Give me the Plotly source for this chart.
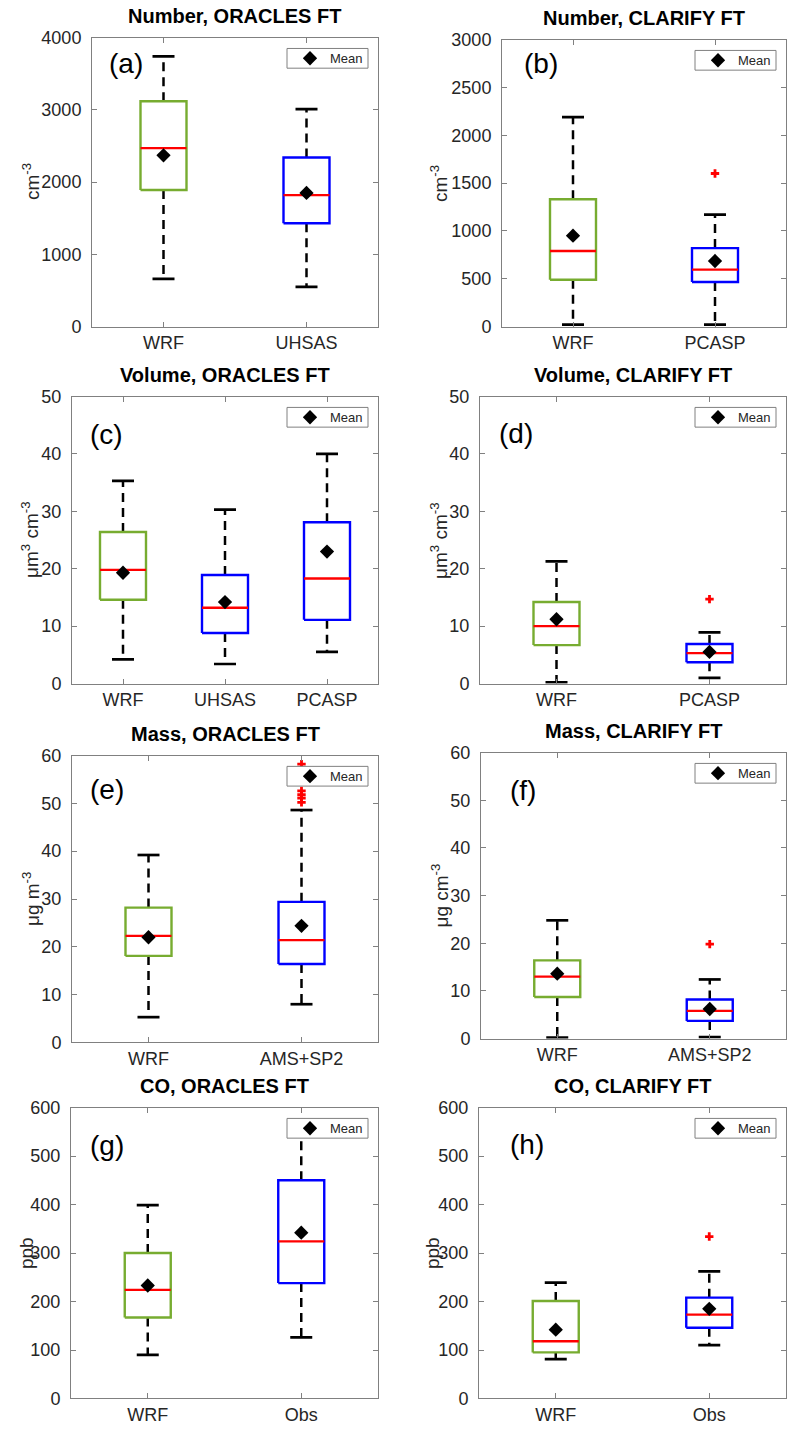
import plotly.graph_objects as go

W, H = 790, 1443
FONT = "Liberation Sans, Arial, Helvetica, sans-serif"

# ---------------- data ----------------
# (a) Number, ORACLES FT
a_cats = ["WRF", "UHSAS"]
a_lo = [660, 550]
a_q1 = [1890, 1430]
a_med = [2470, 1820]
a_q3 = [3120, 2340]
a_hi = [3740, 3010]
a_mean = [2370, 1850]
a_out = [[], []]

# (b) Number, CLARIFY FT
b_cats = ["WRF", "PCASP"]
b_lo = [20, 20]
b_q1 = [490, 465]
b_med = [790, 595]
b_q3 = [1330, 820]
b_hi = [2190, 1170]
b_mean = [950, 685]
b_out = [[], [1600]]

# (c) Volume, ORACLES FT
c_cats = ["WRF", "UHSAS", "PCASP"]
c_lo = [4.2, 3.4, 5.5]
c_q1 = [14.6, 8.8, 11.1]
c_med = [19.8, 13.2, 18.3]
c_q3 = [26.4, 18.9, 28.1]
c_hi = [35.3, 30.3, 40.0]
c_mean = [19.3, 14.2, 23.0]
c_out = [[], [], []]

# (d) Volume, CLARIFY FT
d_cats = ["WRF", "PCASP"]
d_lo = [0.2, 1.0]
d_q1 = [6.7, 3.7]
d_med = [10.0, 5.3]
d_q3 = [14.2, 6.9]
d_hi = [21.3, 8.9]
d_mean = [11.2, 5.5]
d_out = [[], [14.7]]

# (e) Mass, ORACLES FT
e_cats = ["WRF", "AMS+SP2"]
e_lo = [5.3, 8.0]
e_q1 = [18.1, 16.4]
e_med = [22.3, 21.4]
e_q3 = [28.2, 29.4]
e_hi = [39.2, 48.6]
e_mean = [22.0, 24.4]
e_out = [[], [50.2, 51.1, 51.8, 52.6, 58.2]]

# (f) Mass, CLARIFY FT
f_cats = ["WRF", "AMS+SP2"]
f_lo = [0.2, 0.3]
f_q1 = [8.7, 3.7]
f_med = [13.0, 5.8]
f_q3 = [16.4, 8.2]
f_hi = [24.8, 12.4]
f_mean = [13.6, 6.2]
f_out = [[], [19.8]]

# (g) CO, ORACLES FT
g_cats = ["WRF", "Obs"]
g_lo = [90, 126]
g_q1 = [167, 238]
g_med = [224, 324]
g_q3 = [300, 450]
g_hi = [399, 560]
g_mean = [233, 342]
g_out = [[], []]

# (h) CO, CLARIFY FT
h_cats = ["WRF", "Obs"]
h_lo = [81, 110]
h_q1 = [95, 146]
h_med = [118, 173]
h_q3 = [201, 208]
h_hi = [239, 262]
h_mean = [142, 185]
h_out = [[], [334]]

titles = ["Number, ORACLES FT", "Number, CLARIFY FT", "Volume, ORACLES FT", "Volume, CLARIFY FT",
          "Mass, ORACLES FT", "Mass, CLARIFY FT", "CO, ORACLES FT", "CO, CLARIFY FT"]
letters = ["(a)", "(b)", "(c)", "(d)", "(e)", "(f)", "(g)", "(h)"]
ylabels = ["cm<sup>-3</sup>", "cm<sup>-3</sup>",
           "\u03bcm<sup>3</sup> cm<sup>-3</sup>", "\u03bcm<sup>3</sup> cm<sup>-3</sup>",
           "\u03bcg m<sup>-3</sup>", "\u03bcg cm<sup>-3</sup>", "ppb", "ppb"]
ymax = [4000, 3000, 50, 50, 60, 60, 600, 600]
ydtick = [1000, 500, 10, 10, 10, 10, 100, 100]

data = [
    (a_cats, a_lo, a_q1, a_med, a_q3, a_hi, a_mean, a_out),
    (b_cats, b_lo, b_q1, b_med, b_q3, b_hi, b_mean, b_out),
    (c_cats, c_lo, c_q1, c_med, c_q3, c_hi, c_mean, c_out),
    (d_cats, d_lo, d_q1, d_med, d_q3, d_hi, d_mean, d_out),
    (e_cats, e_lo, e_q1, e_med, e_q3, e_hi, e_mean, e_out),
    (f_cats, f_lo, f_q1, f_med, f_q3, f_hi, f_mean, f_out),
    (g_cats, g_lo, g_q1, g_med, g_q3, g_hi, g_mean, g_out),
    (h_cats, h_lo, h_q1, h_med, h_q3, h_hi, h_mean, h_out),
]

# ---------------- style / layout ----------------
# axes frames in pixels: left, right, top, bottom
frames = [(92, 378, 28, 321), (502, 786, 30, 321),
          (72, 378, 392, 683), (480, 786, 392, 683),
          (72, 378, 756, 1047), (481, 786, 753, 1043),
          (71, 378, 1113, 1408), (479, 786, 1113, 1408)]
ylab_x = [31, 439, 30, 439, 31, 440, 26, 432]
letter_pos = [(107, 54), (522, 54), (88, 430), (497, 429), (88, 790), (508, 791), (88, 1151), (508, 1150)]

GREEN = "#77AC30"
BLUE = "#0000FF"
RED = "#FF0000"
AXC = "#808080"
TXT = "#262626"

fig = go.Figure()
annotations = []
shapes = []
layout = dict(width=W, height=H, margin=dict(l=0, r=0, t=0, b=0),
              paper_bgcolor="white", plot_bgcolor="white",
              font=dict(family=FONT, color=TXT))

for i, (cats, lo, q1, med, q3, hi, mean, out) in enumerate(data):
    n = i + 1
    sfx = "" if n == 1 else str(n)
    xa, ya = "x" + sfx, "y" + sfx
    L, R, T, B = frames[i]
    ncat = len(cats)
    unit_px = (R - L) / ncat
    bw = 46.0 / unit_px / 2.0   # half box width (data units)
    cw = 22.0 / unit_px / 2.0   # half cap width
    xs = list(range(1, ncat + 1))

    for k, c in enumerate(xs):
        col = GREEN if k == 0 else BLUE
        # dashed whiskers
        fig.add_trace(go.Scatter(x=[c, c, None, c, c], y=[q3[k], hi[k], None, q1[k], lo[k]],
                                 mode="lines", line=dict(color="black", width=2.5, dash="9px,6px"),
                                 xaxis=xa, yaxis=ya, showlegend=False, hoverinfo="skip"))
        # caps
        fig.add_trace(go.Scatter(x=[c - cw, c + cw, None, c - cw, c + cw], y=[hi[k], hi[k], None, lo[k], lo[k]],
                                 mode="lines", line=dict(color="black", width=2.7),
                                 xaxis=xa, yaxis=ya, showlegend=False, hoverinfo="skip"))
        # box
        fig.add_trace(go.Scatter(x=[c - bw, c + bw, c + bw, c - bw, c - bw],
                                 y=[q1[k], q1[k], q3[k], q3[k], q1[k]],
                                 mode="lines", line=dict(color=col, width=2.4),
                                 xaxis=xa, yaxis=ya, showlegend=False, hoverinfo="skip"))
        # median
        fig.add_trace(go.Scatter(x=[c - bw, c + bw], y=[med[k], med[k]],
                                 mode="lines", line=dict(color=RED, width=2.4),
                                 xaxis=xa, yaxis=ya, showlegend=False, hoverinfo="skip"))
        if out[k]:
            fig.add_trace(go.Scatter(x=[c] * len(out[k]), y=out[k], mode="markers",
                                     marker=dict(symbol="cross", size=7, color=RED),
                                     xaxis=xa, yaxis=ya, showlegend=False, hoverinfo="skip"))
    # means
    leg = "legend" + sfx
    fig.add_trace(go.Scatter(x=xs, y=mean, mode="markers", name="Mean",
                             marker=dict(symbol="diamond", size=11, color="black"),
                             xaxis=xa, yaxis=ya, showlegend=True, legend=leg))

    layout["xaxis" + sfx] = dict(domain=[L / W, R / W], anchor=ya, range=[0.5, ncat + 0.5],
                                 tickvals=xs, ticktext=cats, showline=True, mirror="ticks",
                                 linecolor=AXC, linewidth=1, ticks="inside", ticklen=5, tickcolor=AXC,
                                 showgrid=False, zeroline=False, ticklabelstandoff=0,
                                 tickfont=dict(size=18, color=TXT, family=FONT), fixedrange=True)
    layout["yaxis" + sfx] = dict(domain=[1 - B / H, 1 - T / H], anchor=xa, range=[0, ymax[i]],
                                 dtick=ydtick[i], tick0=0, showline=True, mirror="ticks",
                                 linecolor=AXC, linewidth=1, ticks="inside", ticklen=5, tickcolor=AXC,
                                 showgrid=False, zeroline=False, ticklabelstandoff=6,
                                 tickfont=dict(size=18, color=TXT, family=FONT), fixedrange=True)
    # legend frame (white box) + real legend entry drawn on top of it
    bx0, bx1, by0, by1 = R - 91, R - 10, T + 11, T + 31
    shapes.append(dict(type="rect", xref="paper", yref="paper", layer="above",
                       x0=bx0 / W, x1=bx1 / W, y0=1 - by1 / H, y1=1 - by0 / H,
                       fillcolor="white", line=dict(color=AXC, width=1)))
    layout[leg] = dict(x=(bx0 + 3) / W, y=1 - ((by0 + by1) / 2) / H, xanchor="left", yanchor="middle",
                       bgcolor="rgba(0,0,0,0)", borderwidth=0,
                       font=dict(size=13, color=TXT, family=FONT), itemwidth=30,
                       tracegroupgap=0)

    # title
    annotations.append(dict(text="<b>" + titles[i] + "</b>", x=(L + R) / 2 / W, y=1 - (T - 9) / H,
                            xref="paper", yref="paper", xanchor="center", yanchor="bottom",
                            showarrow=False, font=dict(size=20, color="black", family=FONT)))
    # panel letter
    lx, ly = letter_pos[i]
    annotations.append(dict(text=letters[i], x=lx / W, y=1 - ly / H, xref="paper", yref="paper",
                            xanchor="left", yanchor="middle", showarrow=False,
                            font=dict(size=28, color="black", family=FONT)))
    # y label
    annotations.append(dict(text=ylabels[i], x=ylab_x[i] / W, y=1 - (T + B) / 2 / H,
                            xref="paper", yref="paper", xanchor="center", yanchor="middle",
                            textangle=-90, showarrow=False,
                            font=dict(size=19, color=TXT, family=FONT)))

layout["annotations"] = annotations
layout["shapes"] = shapes
fig.update_layout(**layout)
fig.write_html("out.html")
